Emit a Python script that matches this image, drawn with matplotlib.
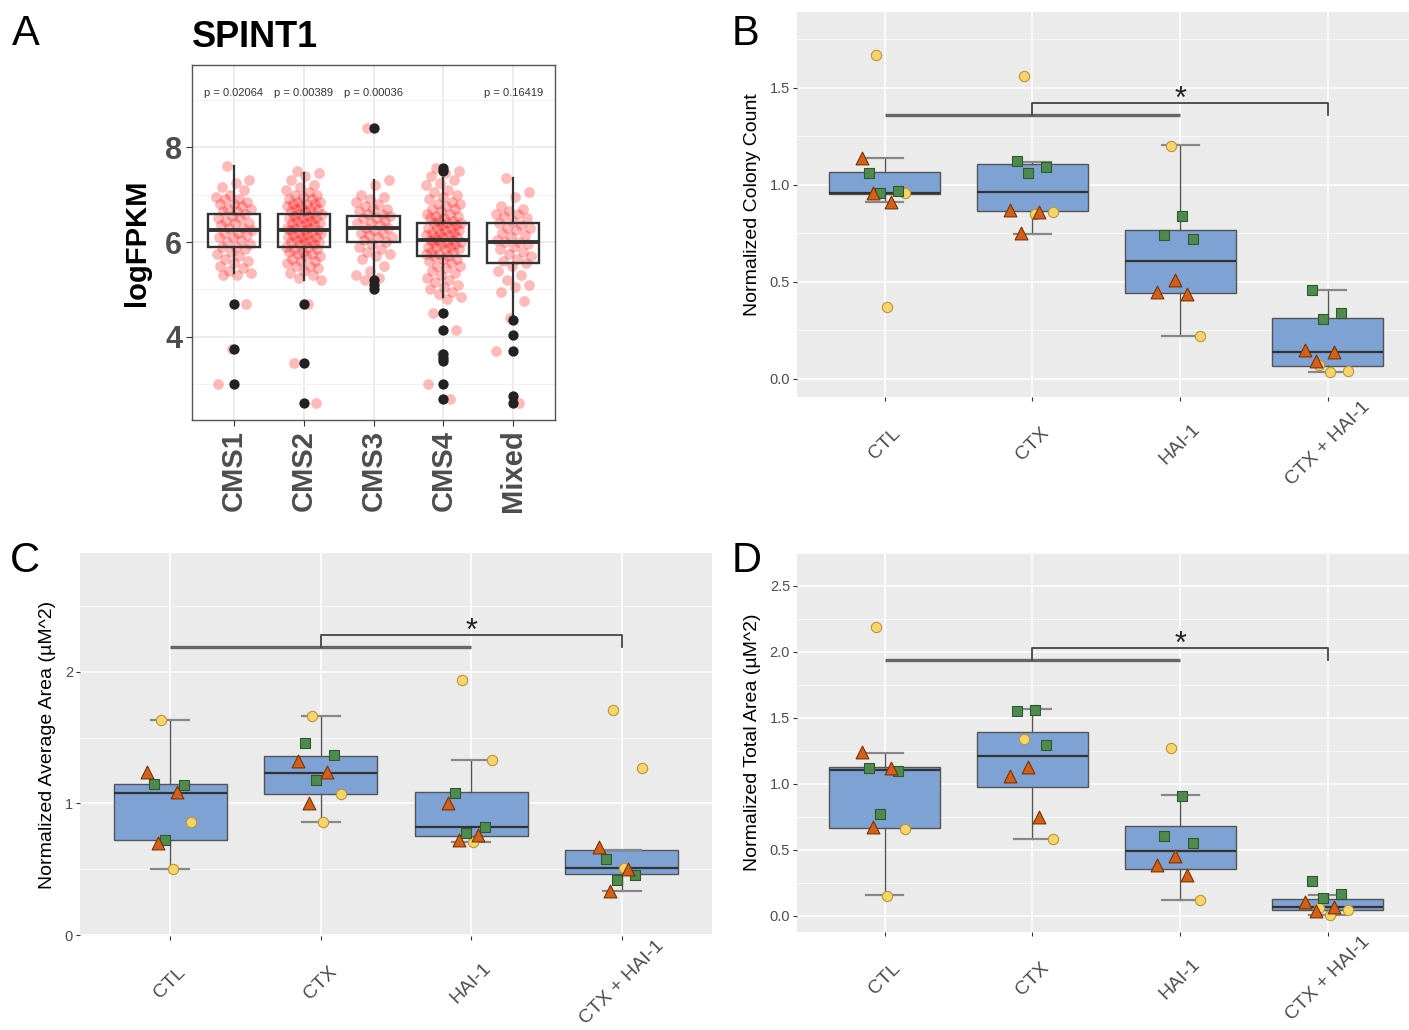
import matplotlib.pyplot as plt
import matplotlib.transforms as mtransforms
import numpy as np

plt.rcParams['font.family'] = ['Liberation Sans', 'DejaVu Sans']

# ---------------- panel A : SPINT1 by CMS subtype ----------------
cms_groups = ['CMS1', 'CMS2', 'CMS3', 'CMS4', 'Mixed']
cms_pvals = ['p = 0.02064', 'p = 0.00389', 'p = 0.00036', '', 'p = 0.16419']
cms_q1 = [5.9, 5.9, 6.0, 5.7, 5.55]
cms_med = [6.25, 6.25, 6.3, 6.05, 6.0]
cms_q3 = [6.6, 6.6, 6.55, 6.4, 6.4]
cms_lo = [5.35, 5.2, 5.3, 4.85, 4.4]
cms_hi = [7.6, 7.45, 7.3, 7.35, 7.35]
cms_out = [[4.7, 3.75, 3.0],
           [4.7, 3.45, 2.6],
           [8.4, 5.2, 5.1, 5.0],
           [7.55, 7.5, 4.5, 4.15, 3.65, 3.55, 3.5, 3.0, 2.7],
           [4.35, 4.05, 3.7, 2.75, 2.6]]
cms1_vals = [7.6, 7.3, 7.25, 7.15, 7.1, 7.0, 6.95, 6.9, 6.9, 6.85, 6.8, 6.8, 6.75, 6.7, 6.7,
             6.65, 6.65, 6.6, 6.55, 6.5, 6.5, 6.45, 6.4, 6.4, 6.35, 6.3, 6.3, 6.25, 6.2, 6.2,
             6.15, 6.1, 6.1, 6.05, 6.0, 5.95, 5.9, 5.9, 5.85, 5.8, 5.75, 5.7, 5.65, 5.6, 5.55,
             5.5, 5.45, 5.4, 5.35, 5.3, 5.3, 4.7, 3.75, 3.0]
cms2_vals = [7.5, 7.45, 7.4, 7.3, 7.2, 7.15, 7.1, 7.05, 7.0, 7.0, 6.95, 6.9, 6.9, 6.85, 6.85,
             6.8, 6.8, 6.8, 6.75, 6.75, 6.7, 6.7, 6.7, 6.65, 6.65, 6.6, 6.6, 6.6, 6.55, 6.55,
             6.5, 6.5, 6.5, 6.45, 6.45, 6.4, 6.4, 6.4, 6.35, 6.35, 6.3, 6.3, 6.3, 6.25, 6.25,
             6.25, 6.2, 6.2, 6.2, 6.15, 6.15, 6.1, 6.1, 6.1, 6.05, 6.05, 6.0, 6.0, 6.0, 5.95,
             5.95, 5.9, 5.9, 5.85, 5.85, 5.8, 5.8, 5.75, 5.75, 5.7, 5.7, 5.65, 5.6, 5.6, 5.55,
             5.5, 5.5, 5.45, 5.4, 5.35, 5.3, 5.25, 5.2, 4.7, 3.45, 2.6]
cms3_vals = [8.4, 7.3, 7.2, 7.0, 6.95, 6.9, 6.85, 6.8, 6.75, 6.7, 6.7, 6.65, 6.6, 6.6, 6.55,
             6.5, 6.5, 6.45, 6.4, 6.4, 6.35, 6.3, 6.3, 6.25, 6.2, 6.2, 6.15, 6.1, 6.1, 6.05,
             6.0, 5.95, 5.9, 5.85, 5.8, 5.75, 5.7, 5.65, 5.5, 5.4, 5.3, 5.25, 5.2]
cms4_vals = [7.55, 7.5, 7.45, 7.4, 7.3, 7.25, 7.2, 7.1, 7.05, 7.0, 6.95, 6.9, 6.85, 6.8, 6.8,
             6.75, 6.7, 6.7, 6.65, 6.6, 6.6, 6.55, 6.55, 6.5, 6.5, 6.45, 6.45, 6.4, 6.4, 6.4,
             6.35, 6.35, 6.3, 6.3, 6.3, 6.25, 6.25, 6.2, 6.2, 6.2, 6.15, 6.15, 6.1, 6.1, 6.1,
             6.05, 6.05, 6.05, 6.0, 6.0, 6.0, 5.95, 5.95, 5.9, 5.9, 5.9, 5.85, 5.85, 5.8, 5.8,
             5.75, 5.75, 5.7, 5.7, 5.65, 5.65, 5.6, 5.55, 5.5, 5.5, 5.45, 5.4, 5.35, 5.3, 5.25,
             5.2, 5.15, 5.1, 5.05, 5.0, 4.95, 4.9, 4.85, 4.8, 4.5, 4.15, 3.65, 3.0, 2.7]
mixed_vals = [7.35, 7.05, 6.95, 6.75, 6.7, 6.65, 6.6, 6.6, 6.55, 6.5, 6.45, 6.4, 6.35, 6.3,
              6.3, 6.25, 6.2, 6.15, 6.1, 6.05, 6.0, 6.0, 5.95, 5.9, 5.85, 5.8, 5.75, 5.7,
              5.65, 5.6, 5.55, 5.5, 5.4, 5.3, 5.2, 5.1, 5.05, 4.95, 4.75, 4.4, 3.7, 2.6]
cms_vals = [cms1_vals, cms2_vals, cms3_vals, cms4_vals, mixed_vals]

# ---------------- panels B-D : treatments ----------------
treatments = ['CTL', 'CTX', 'HAI-1', 'CTX + HAI-1']

# B: normalized colony count
colony_circ = [[1.67, 0.96, 0.37], [1.56, 0.86, 0.85], [1.20, 0.22], [0.07, 0.04, 0.035]]
colony_sq = [[1.06, 0.97, 0.96], [1.12, 1.09, 1.06], [0.84, 0.74, 0.72], [0.46, 0.34, 0.31]]
colony_tri = [[1.14, 0.91, 0.96], [0.87, 0.86, 0.75], [0.51, 0.45, 0.44], [0.15, 0.14, 0.09]]
colony_q1 = [0.955, 0.863, 0.443, 0.069]
colony_med = [0.96, 0.962, 0.607, 0.137]
colony_q3 = [1.064, 1.105, 0.765, 0.314]
colony_lo = [0.912, 0.747, 0.223, 0.034]
colony_hi = [1.136, 1.119, 1.204, 0.46]

# C: normalized average area
avg_circ = [[1.63, 0.86, 0.50], [1.66, 1.07, 0.86], [1.94, 1.33, 0.71], [1.71, 1.27, 0.51]]
avg_sq = [[1.15, 1.14, 0.72], [1.46, 1.37, 1.18], [1.08, 0.82, 0.78], [0.58, 0.46, 0.42]]
avg_tri = [[1.24, 1.09, 0.70], [1.32, 1.24, 1.00], [1.00, 0.76, 0.72], [0.67, 0.50, 0.34]]
avg_q1 = [0.721, 1.074, 0.752, 0.469]
avg_med = [1.08, 1.231, 0.822, 0.507]
avg_q3 = [1.145, 1.364, 1.087, 0.651]
avg_lo = [0.504, 0.86, 0.709, 0.335]
avg_hi = [1.634, 1.66, 1.332, 0.651]

# D: normalized total area
tot_circ = [[2.19, 0.66, 0.15], [1.34, 0.58], [1.27, 0.12], [0.06, 0.04, 0.005]]
tot_sq = [[1.12, 1.10, 0.77], [1.56, 1.55, 1.29], [0.91, 0.60, 0.55], [0.26, 0.16, 0.13]]
tot_tri = [[1.24, 1.12, 0.67], [1.13, 1.06, 0.75], [0.45, 0.38, 0.31], [0.10, 0.065, 0.035]]
tot_q1 = [0.664, 0.976, 0.352, 0.041]
tot_med = [1.107, 1.21, 0.491, 0.065]
tot_q3 = [1.124, 1.39, 0.676, 0.125]
tot_lo = [0.156, 0.582, 0.12, 0.007]
tot_hi = [1.234, 1.563, 0.916, 0.156]

# significance bracket heights (base, top, star)
colony_sig = [1.357, 1.419, 1.435]
avg_sig = [2.184, 2.277, 2.30]
tot_sig = [1.942, 2.03, 2.052]

BOX_FILL = '#7EA2D3'
GREY_TXT = '#4D4D4D'


def jitter(n, w):
    # deterministic spread, like geom_jitter
    return ((np.arange(n) * 0.618034 + 0.31) % 1 - 0.5) * 2 * w


def stats(q1, med, q3, lo, hi):
    return [dict(q1=a, med=b, q3=c, whislo=d, whishi=e, fliers=[])
            for a, b, c, d, e in zip(q1, med, q3, lo, hi)]


fig = plt.figure(figsize=(14.09, 10.30), dpi=100)

# ---------------- panel A ----------------
axA = fig.add_axes([192/1409, 1-420/1030, 363/1409, 355/1030])
pos = np.arange(1, 6)
for i, vals in enumerate(cms_vals):
    axA.scatter(pos[i] + jitter(len(vals), 0.26), vals, s=60, color='red', alpha=0.27,
                linewidths=0, zorder=2)
axA.bxp(stats(cms_q1, cms_med, cms_q3, cms_lo, cms_hi), positions=pos, widths=0.75,
        showcaps=False, patch_artist=True,
        boxprops=dict(facecolor='none', edgecolor='#333333', linewidth=1.7),
        medianprops=dict(color='#333333', linewidth=2.8),
        whiskerprops=dict(color='#333333', linewidth=1.6), manage_ticks=False, zorder=3)
for i, outs in enumerate(cms_out):
    axA.scatter([pos[i]] * len(outs), outs, s=55, color='#222222', zorder=4, linewidths=0)
for i, p in enumerate(cms_pvals):
    if p:
        axA.text(pos[i], 9.14, p, ha='center', va='center', fontsize=8, color='#333333')
axA.set_xlim(0.4, 5.6)
axA.set_ylim(2.25, 9.73)
axA.set_xticks(pos)
axA.set_xticklabels(cms_groups, rotation=90, fontsize=21, fontweight='bold', color=GREY_TXT)
axA.set_yticks([4, 6, 8])
axA.set_yticklabels(['4', '6', '8'], fontsize=22, fontweight='bold', color=GREY_TXT)
axA.set_yticks([3, 5, 7, 9], minor=True)
axA.tick_params(which='major', length=4, color='#333333', pad=3)
axA.tick_params(which='minor', length=0)
axA.grid(which='major', color='#EBEBEB', linewidth=1.3, zorder=0)
axA.grid(which='minor', color='#F2F2F2', linewidth=0.8, zorder=0)
axA.set_axisbelow(True)
for sp in axA.spines.values():
    sp.set_color('#555555')
    sp.set_linewidth(1.0)
axA.set_ylabel('logFPKM', fontsize=21, fontweight='bold', labelpad=10)
fig.text(192/1409, 1-47/1030, 'SPINT1', fontsize=26, fontweight='bold', va='baseline')


# ---------------- panels B-D ----------------
def treatment_panel(ax, circ, sq, tri, q1, med, q3, lo, hi, sig, ylim, yticks, ylabels,
                    xlim, ylabel):
    x = np.arange(1, 5)
    ax.set_facecolor('#EBEBEB')
    ax.bxp(stats(q1, med, q3, lo, hi), positions=x, widths=0.75, patch_artist=True,
           capwidths=0.25,
           boxprops=dict(facecolor=BOX_FILL, edgecolor='#555555', linewidth=1.0),
           medianprops=dict(color='#333333', linewidth=1.6),
           whiskerprops=dict(color='#555555', linewidth=1.0),
           capprops=dict(color='#888888', linewidth=1.6), manage_ticks=False, zorder=2)
    for i in range(4):
        n = len(circ[i]) + len(sq[i]) + len(tri[i])
        off = jitter(n, 0.16)
        a, b = len(circ[i]), len(circ[i]) + len(sq[i])
        ax.scatter(x[i] + off[:a], circ[i], s=55, marker='o', facecolor='#F7D56B',
                   edgecolor='#B8963A', linewidths=0.8, zorder=4)
        ax.scatter(x[i] + off[a:b], sq[i], s=55, marker='s', facecolor='#4F8A4F',
                   edgecolor='#2E5A2E', linewidths=0.8, zorder=4)
        ax.scatter(x[i] + off[b:], tri[i], s=85, marker='^', facecolor='#D2601A',
                   edgecolor='#7A3300', linewidths=0.8, zorder=4)
    # significance annotation
    base, top, star = sig
    ax.plot([1, 3], [base, base], color='#666666', linewidth=2.4, zorder=3,
            solid_capstyle='butt')
    ax.plot([2, 2, 4, 4], [base, top, top, base], color='#444444', linewidth=1.3, zorder=3)
    ax.text(3, star, '*', ha='center', va='center', fontsize=22, color='#222222')
    ax.set_xlim(*xlim)
    ax.set_ylim(*ylim)
    ax.set_xticks(x)
    ax.set_xticklabels([])
    ax.set_yticks(yticks)
    ax.set_yticklabels(ylabels, fontsize=10.5, color=GREY_TXT)
    minor = [(a + b) / 2 for a, b in zip(yticks[:-1], yticks[1:])]
    minor = minor + [yticks[-1] + (yticks[1] - yticks[0]) / 2]
    ax.set_yticks(minor, minor=True)
    ax.tick_params(which='major', length=3, color='#333333', pad=2)
    ax.tick_params(which='minor', length=0)
    ax.grid(which='major', color='white', linewidth=1.1)
    ax.grid(which='minor', axis='y', color='white', linewidth=0.5)
    ax.set_axisbelow(True)
    for sp in ax.spines.values():
        sp.set_visible(False)
    ax.set_ylabel(ylabel, fontsize=14, labelpad=6)
    tr = mtransforms.offset_copy(ax.get_xaxis_transform(), fig=fig, y=-47, units='dots')
    for xi, lab in zip(x, treatments):
        ax.text(xi, 0, lab, transform=tr, rotation=45, ha='center', va='center',
                rotation_mode='anchor', fontsize=14, color=GREY_TXT)


axB = fig.add_axes([797/1409, 1-397/1030, 612/1409, 385/1030])
treatment_panel(axB, colony_circ, colony_sq, colony_tri, colony_q1, colony_med, colony_q3,
                colony_lo, colony_hi, colony_sig, (-0.093, 1.89), [0, 0.5, 1.0, 1.5],
                ['0.0', '0.5', '1.0', '1.5'], (0.405, 4.55), 'Normalized Colony Count')

axC = fig.add_axes([80/1409, 1-936/1030, 632/1409, 383/1030])
treatment_panel(axC, avg_circ, avg_sq, avg_tri, avg_q1, avg_med, avg_q3, avg_lo, avg_hi,
                avg_sig, (-0.005, 2.90), [0, 1, 2], ['0', '1', '2'], (0.4, 4.6),
                'Normalized Average Area (\u00b5M^2)')

axD = fig.add_axes([797/1409, 1-932/1030, 612/1409, 379/1030])
treatment_panel(axD, tot_circ, tot_sq, tot_tri, tot_q1, tot_med, tot_q3, tot_lo, tot_hi,
                tot_sig, (-0.125, 2.625), [0, 0.5, 1.0, 1.5, 2.0, 2.5],
                ['0.0', '0.5', '1.0', '1.5', '2.0', '2.5'], (0.405, 4.55),
                'Normalized Total Area (\u00b5M^2)')

# panel letters
for x0, y0, letter in [(12, 45, 'A'), (732, 45, 'B'), (10, 572, 'C'), (732, 572, 'D')]:
    fig.text(x0/1409, 1-y0/1030, letter, fontsize=30, va='baseline')

fig.savefig('out.png', dpi=100)
